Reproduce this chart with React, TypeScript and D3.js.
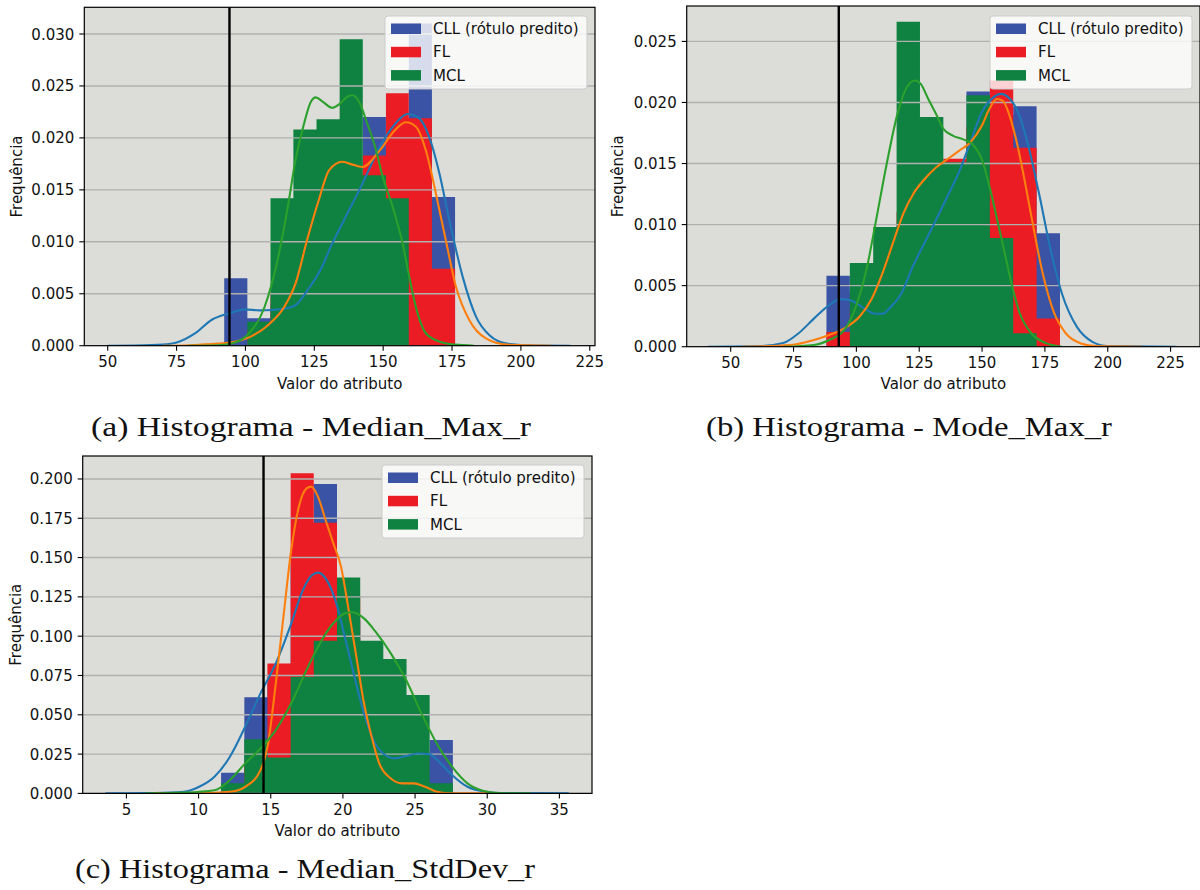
import React from "react";
import * as d3 from "d3";

type Pt = [number, number];

// ---------- shared ----------
const seriesNames = ["CLL (rótulo predito)", "FL", "MCL"];
const barColors = ["#3a53a5", "#eb1c24", "#0f8140"];
const kdeColors = ["#1f77b4", "#ff7f0e", "#2ca02c"];
const xAxisTitle = "Valor do atributo";
const yAxisTitle = "Frequência";

// ---------- panel (a) Median_Max_r ----------
const captionA = "(a) Histograma - Median_Max_r";
const edgesA = [92.3, 100.7, 109.1, 117.4, 125.8, 134.2, 142.6, 151.0, 159.3, 167.7, 176.1];
const cllA = [0.0065, 0.00265, 0.004, 0.0062, 0.0098, 0.0135, 0.022, 0.019, 0.031, 0.0143];
const flA = [0, 0.0015, 0.0052, 0.009, 0.015, 0.0165, 0.0183, 0.0243, 0.0219, 0.0074];
const mclA = [0, 0.0023, 0.0142, 0.0208, 0.0218, 0.0295, 0.0164, 0.0142, 0, 0];
const kdeCllA: Pt[] = [[50, 0], [60, 0.00002], [70, 0.0001], [75, 0.0003], [81.8, 0.0012], [87.8, 0.0025], [93.9, 0.0031], [100, 0.0035], [105, 0.0034], [109.7, 0.00344], [115, 0.0036], [118.2, 0.0039], [122.4, 0.0053], [128, 0.0077], [130.4, 0.0092], [136, 0.0122], [142.5, 0.0156], [148.5, 0.019], [154.5, 0.0214], [158.8, 0.0223], [163, 0.0219], [166.7, 0.0201], [170.4, 0.0166], [174, 0.0121], [178.9, 0.0066], [183.7, 0.0028], [188.6, 0.001], [195, 0.0002], [205, 0.00002], [218, 0]];
const kdeFlA: Pt[] = [[70, 0], [80, 0.00005], [90, 0.0002], [95.7, 0.00035], [101.3, 0.0008], [108.3, 0.002], [114, 0.0037], [118.2, 0.006], [122.4, 0.0102], [126.6, 0.014], [130.4, 0.0169], [135.2, 0.0177], [138, 0.0175], [142.5, 0.0172], [148.5, 0.0187], [154.5, 0.0208], [158.2, 0.0215], [161.8, 0.0211], [165.5, 0.0188], [169.1, 0.0147], [172.7, 0.0102], [176.4, 0.0057], [181.2, 0.0025], [187.3, 0.0007], [195, 0.0001], [211, 0]];
const kdeMclA: Pt[] = [[79, 0], [90, 0.00005], [95.7, 0.00026], [101.3, 0.0012], [106.9, 0.0037], [111.1, 0.0076], [115.4, 0.0134], [118.2, 0.0179], [121, 0.0211], [123.8, 0.0235], [125.5, 0.0239], [128, 0.0235], [131.5, 0.0229], [134.3, 0.0233], [137.2, 0.024], [139, 0.0241], [141.4, 0.0234], [144.2, 0.0214], [147, 0.0192], [149.8, 0.0163], [153.4, 0.0134], [157, 0.0099], [159.5, 0.0066], [161.8, 0.0038], [165.5, 0.0012], [170.4, 0.0004], [176, 0.0001], [183, 0]];
const thresholdA = 94.2;
const xTicksA = [50, 75, 100, 125, 150, 175, 200, 225];
const yTicksA = [0, 0.005, 0.01, 0.015, 0.02, 0.025, 0.03];

// ---------- panel (b) Mode_Max_r ----------
const captionB = "(b) Histograma - Mode_Max_r";
const edgesB = [88.1, 97.4, 106.7, 116.0, 125.3, 134.6, 143.8, 153.1, 162.4, 171.7, 181.0];
const cllB = [0.0058, 0.0045, 0.004, 0.007, 0.0095, 0.0125, 0.0209, 0.019, 0.0197, 0.0093];
const flB = [0.0012, 0.003, 0.006, 0.011, 0.0135, 0.0154, 0.018, 0.0218, 0.0163, 0.0023];
const mclB = [0, 0.00685, 0.0098, 0.0266, 0.0188, 0.0151, 0.0206, 0.0089, 0.0011, 0];
const kdeCllB: Pt[] = [[41, 0], [61.8, 0.00005], [70.9, 0.0003], [77, 0.0011], [83.1, 0.0023], [89.2, 0.0034], [93.7, 0.0039], [97.5, 0.0038], [102.8, 0.0032], [107.4, 0.0027], [110.4, 0.0027], [113.4, 0.0032], [118, 0.0044], [122.5, 0.0066], [127.1, 0.0085], [131.7, 0.0104], [136.2, 0.0123], [140.8, 0.0143], [145.3, 0.0167], [149.9, 0.0192], [154.4, 0.0204], [157.5, 0.0207], [160.5, 0.0204], [164.3, 0.0192], [168.1, 0.0167], [172.6, 0.0126], [177.2, 0.008], [181.7, 0.0044], [187.8, 0.0016], [193.9, 0.0004], [199.9, 0.00005], [227.3, 0]];
const kdeFlB: Pt[] = [[54.2, 0], [74, 0.00014], [83.1, 0.00055], [89.2, 0.00096], [95.2, 0.0015], [101.3, 0.00247], [105.9, 0.00384], [110.4, 0.00603], [115, 0.00877], [118.8, 0.01096], [122.5, 0.01247], [127.1, 0.01371], [131.7, 0.01467], [136.2, 0.01535], [140.8, 0.01604], [145.3, 0.01672], [149.9, 0.01809], [152.9, 0.01946], [155.9, 0.02029], [158.2, 0.02015], [160.5, 0.01919], [163.5, 0.017], [166.6, 0.01398], [169.6, 0.01069], [174.1, 0.00603], [178.7, 0.00274], [183.3, 0.0011], [189.3, 0.00027], [195.4, 0.00005], [213.6, 0]];
const kdeMclB: Pt[] = [[70.9, 0], [83.1, 0.00014], [89.2, 0.00055], [95.2, 0.00137], [99.8, 0.00329], [104.3, 0.00658], [107.4, 0.00987], [111.9, 0.0148], [116.5, 0.01919], [120.3, 0.02133], [123.3, 0.0218], [125.6, 0.02152], [128.6, 0.02029], [131.7, 0.01905], [134.7, 0.01782], [138.5, 0.01727], [142.3, 0.017], [146.1, 0.01659], [149.9, 0.01535], [152.9, 0.01316], [156, 0.01042], [159, 0.00768], [162, 0.00493], [165, 0.00274], [169.6, 0.0011], [175.7, 0.00027], [181.7, 0]];
const thresholdB = 93.0;
const xTicksB = [50, 75, 100, 125, 150, 175, 200, 225];
const yTicksB = [0, 0.005, 0.01, 0.015, 0.02, 0.025];

// ---------- panel (c) Median_StdDev_r ----------
const captionC = "(c) Histograma - Median_StdDev_r";
const edgesC = [11.56, 13.17, 14.77, 16.38, 17.98, 19.59, 21.2, 22.8, 24.41, 26.01, 27.62];
const cllC = [0.0132, 0.0611, 0.07, 0.15, 0.1968, 0.11, 0.045, 0.022, 0.025, 0.0339];
const flC = [0, 0.02, 0.0827, 0.2036, 0.1722, 0.125, 0.04, 0.008, 0.005, 0];
const mclC = [0.0064, 0.0344, 0.0229, 0.0742, 0.0971, 0.1374, 0.0971, 0.0855, 0.0626, 0.0064];
const kdeCllC: Pt[] = [[3.54, 0], [7, 0.0002], [8.98, 0.001], [10.04, 0.0042], [11.1, 0.0106], [12.17, 0.0233], [13.23, 0.0424], [14.29, 0.0636], [15.35, 0.0827], [16.42, 0.108], [17.21, 0.129], [17.87, 0.1389], [18.27, 0.1404], [18.8, 0.1368], [19.47, 0.123], [20.13, 0.0997], [20.8, 0.0742], [21.46, 0.0509], [22.12, 0.0339], [22.79, 0.0254], [23.58, 0.0223], [24.38, 0.0238], [25.18, 0.0254], [25.97, 0.025], [26.77, 0.0191], [27.56, 0.0117], [28.63, 0.0042], [29.95, 0.001], [31, 0.0002], [35.66, 0]];
const kdeFlC: Pt[] = [[6.9, 0], [10, 0.0001], [12.17, 0.001], [13.23, 0.0042], [14.29, 0.0148], [14.82, 0.0318], [15.35, 0.07], [15.88, 0.1124], [16.42, 0.1548], [16.95, 0.1824], [17.48, 0.194], [17.8, 0.1951], [18.27, 0.1888], [18.8, 0.1739], [19.34, 0.159], [19.87, 0.1442], [20.4, 0.1166], [20.93, 0.087], [21.46, 0.0573], [21.99, 0.036], [22.52, 0.0191], [23.32, 0.0095], [24.11, 0.0064], [24.9, 0.0064], [25.7, 0.0042], [26.5, 0.001], [27.3, 0.0001], [30, 0]];
const kdeMclC: Pt[] = [[6.3, 0], [9, 0.0005], [11.1, 0.002], [12.17, 0.0085], [13.23, 0.0191], [14.29, 0.0286], [15.35, 0.0403], [16.42, 0.0573], [17.48, 0.0785], [18.54, 0.0976], [19.34, 0.1082], [20.13, 0.1145], [20.66, 0.1152], [21.46, 0.1113], [22.26, 0.1029], [23.32, 0.0891], [24.38, 0.0721], [25.44, 0.0509], [26.5, 0.0318], [27.56, 0.017], [28.63, 0.0064], [29.69, 0.0017], [30.75, 0.0003], [33, 0]];
const thresholdC = 14.5;
const xTicksC = [5, 10, 15, 20, 25, 30, 35];
const yTicksC = [0, 0.025, 0.05, 0.075, 0.1, 0.125, 0.15, 0.175, 0.2];

// ---------- layout (pixels) ----------
const layoutA = { left: 84.3, right: 595, top: 7.3, bottom: 345.7, xDomain: [41.5, 226.9], yMax: 0.03257, legendX: 385, legendY: 16, yTitleX: 16.4, xTitleY: 388.5, capX: 91, capY: 436, capLen: 440 };
const layoutB = { left: 686.7, right: 1200, top: 6, bottom: 346.7, xDomain: [32.5, 236.7], yMax: 0.0279, legendX: 990, legendY: 16, yTitleX: 617, xTitleY: 388.5, capX: 706, capY: 436, capLen: 406 };
const layoutC = { left: 82.7, right: 592, top: 456, bottom: 793.4, xDomain: [1.97, 37.26], yMax: 0.2146, legendX: 382, legendY: 465, yTitleX: 15.5, xTitleY: 836, capX: 75, capY: 877.7, capLen: 460 };

const panels = [
  { id: "a", layout: layoutA, caption: captionA, edges: edgesA, bars: [cllA, flA, mclA], kdes: [kdeCllA, kdeFlA, kdeMclA], threshold: thresholdA, xTicks: xTicksA, yTicks: yTicksA },
  { id: "b", layout: layoutB, caption: captionB, edges: edgesB, bars: [cllB, flB, mclB], kdes: [kdeCllB, kdeFlB, kdeMclB], threshold: thresholdB, xTicks: xTicksB, yTicks: yTicksB },
  { id: "c", layout: layoutC, caption: captionC, edges: edgesC, bars: [cllC, flC, mclC], kdes: [kdeCllC, kdeFlC, kdeMclC], threshold: thresholdC, xTicks: xTicksC, yTicks: yTicksC },
];

const FONT = "'DejaVu Sans', sans-serif";
const FS = 15;

function Panel({ p }: { p: (typeof panels)[number] }) {
  const L = p.layout;
  const x = d3.scaleLinear().domain(L.xDomain).range([L.left, L.right]);
  const y = d3.scaleLinear().domain([0, L.yMax]).range([L.bottom, L.top]);
  const line = d3
    .line<Pt>()
    .x((d) => x(d[0]))
    .y((d) => y(d[1]))
    .curve(d3.curveMonotoneX);
  const fmt = d3.format(".3f");
  const clipId = "clip-" + p.id;

  const histPath = (vals: number[]) => {
    const path = d3.path();
    vals.forEach((v, i) => {
      if (v <= 0) return;
      const x0 = x(p.edges[i]);
      const x1 = x(p.edges[i + 1]);
      path.rect(x0, y(v), x1 - x0, y(0) - y(v));
    });
    return path.toString();
  };

  const cx = (L.left + L.right) / 2;
  const cy = (L.top + L.bottom) / 2;
  const lgW = 202;
  const lgH = 73;

  return (
    <g>
      <defs>
        <clipPath id={clipId}>
          <rect x={L.left} y={L.top} width={L.right - L.left} height={L.bottom - L.top} />
        </clipPath>
      </defs>
      <rect x={L.left} y={L.top} width={L.right - L.left} height={L.bottom - L.top} fill="#dcddd8" />
      <g clipPath={`url(#${clipId})`}>
        {p.bars.map((vals, si) => (
          <path key={si} d={histPath(vals)} fill={barColors[si]} />
        ))}
        {p.yTicks.map((t) => (
          <line key={t} x1={L.left} x2={L.right} y1={y(t)} y2={y(t)} stroke="#b0b0b0" strokeWidth={1.4} />
        ))}
        {p.kdes.map((pts, si) => (
          <path key={si} d={line(pts) || ""} fill="none" stroke={kdeColors[si]} strokeWidth={2.1} />
        ))}
        <line x1={x(p.threshold)} x2={x(p.threshold)} y1={L.top} y2={L.bottom} stroke="#000" strokeWidth={2.4} />
      </g>
      <rect x={L.left} y={L.top} width={L.right - L.left} height={L.bottom - L.top} fill="none" stroke="#000" strokeWidth={1.2} />
      {p.xTicks.map((t) => (
        <g key={t}>
          <line x1={x(t)} x2={x(t)} y1={L.bottom} y2={L.bottom + 5} stroke="#000" strokeWidth={1.1} />
          <text x={x(t)} y={L.bottom + 21.5} textAnchor="middle" fontFamily={FONT} fontSize={FS} fill="#111">
            {t}
          </text>
        </g>
      ))}
      {p.yTicks.map((t) => (
        <g key={t}>
          <line x1={L.left - 5} x2={L.left} y1={y(t)} y2={y(t)} stroke="#000" strokeWidth={1.1} />
          <text x={L.left - 10} y={y(t) + 5.5} textAnchor="end" fontFamily={FONT} fontSize={FS} fill="#111">
            {fmt(t)}
          </text>
        </g>
      ))}
      <text x={cx} y={L.xTitleY} textAnchor="middle" fontFamily={FONT} fontSize={FS} fill="#111">
        {xAxisTitle}
      </text>
      <text
        transform={`translate(${L.yTitleX + 5.5},${cy}) rotate(-90)`}
        textAnchor="middle"
        fontFamily={FONT}
        fontSize={FS}
        fill="#111"
      >
        {yAxisTitle}
      </text>
      <g>
        <rect x={L.legendX} y={L.legendY} width={lgW} height={lgH} rx={3} fill="#ffffff" fillOpacity={0.8} stroke="#cccccc" strokeWidth={1} />
        {seriesNames.map((name, si) => {
          const ry = L.legendY + 12.5 + si * 23.3;
          return (
            <g key={name}>
              <rect x={L.legendX + 6} y={ry - 5} width={30} height={10.5} fill={barColors[si]} />
              <text x={L.legendX + 48} y={ry + 5.5} fontFamily={FONT} fontSize={FS} fill="#111">
                {name}
              </text>
            </g>
          );
        })}
      </g>
      <text
        x={L.capX}
        y={L.capY}
        fontFamily="'Liberation Serif', 'DejaVu Serif', serif"
        fontSize={28}
        fill="#111"
        textLength={L.capLen}
        lengthAdjust="spacingAndGlyphs"
      >
        {p.caption}
      </text>
    </g>
  );
}

export default function App() {
  return (
    <svg
      width={1200}
      height={890}
      viewBox="0 0 1200 890"
      style={{ position: "absolute", left: 0, top: 0, background: "#ffffff" }}
    >
      <rect x={0} y={0} width={1200} height={890} fill="#ffffff" />
      {panels.map((p) => (
        <Panel key={p.id} p={p} />
      ))}
    </svg>
  );
}
